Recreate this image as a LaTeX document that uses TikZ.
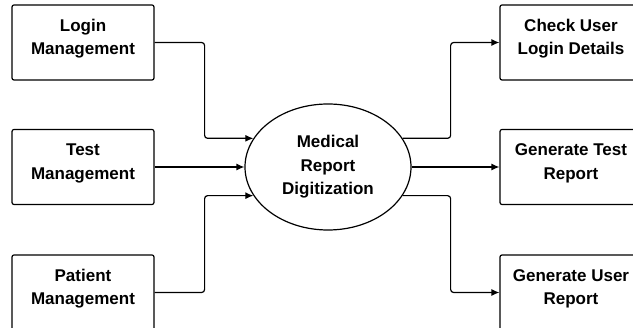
\documentclass[tikz,border=0pt]{standalone}
\usepackage{fontspec}
\setmainfont{Liberation Sans}
\usetikzlibrary{shapes.geometric,arrows.meta}

\tikzset{
  box/.style={draw, line width=1.2pt, rounded corners=2pt,
    minimum width=142pt, minimum height=75pt, align=center,
    text depth=11pt,
    font=\bfseries\fontsize{17}{23.5}\selectfont},
  proc/.style={draw, line width=1.2pt, ellipse,
    minimum width=166pt, minimum height=126pt, align=center,
    font=\bfseries\fontsize{17}{23.5}\selectfont},
  flow/.style={line width=1.2pt, rounded corners=3pt,
    -{Latex[length=8pt,width=7pt]}}
}

\begin{document}
\begin{tikzpicture}[x=1pt, y=1pt]
  \useasboundingbox (0,0) rectangle (633,-328);
  \clip (0,0) rectangle (633,-328);

  % inputs on the left
  \node[box] (login) at (83,-42.5) {Login\\Management};
  \node[box] (test) at (83,-167) {Test\\Management};
  \node[box] (patient) at (83,-292.5) {Patient\\Management};

  % the process in the middle
  \node[proc] (digit) at (328,-167) {Medical\\Report\\Digitization};

  % outputs on the right
  \node[box] (check) at (571,-42.5) {Check User\\Login Details};
  \node[box] (testrep) at (571,-167) {Generate Test\\Report};
  \node[box] (userrep) at (571,-292.5) {Generate User\\Report};

  % flows into the process
  \draw[flow] (login.east) -- ++(50,0) |- (digit.159);
  \draw[flow] (test.east) -- (digit.west);
  \draw[flow] (patient.east) -- ++(50,0) |- (digit.201);

  % flows out of it
  \draw[flow] (digit.21) -- ++(48,0) |- (check.west);
  \draw[flow] (digit.east) -- (testrep.west);
  \draw[flow] (digit.-21) -- ++(48,0) |- (userrep.west);
\end{tikzpicture}
\end{document}
